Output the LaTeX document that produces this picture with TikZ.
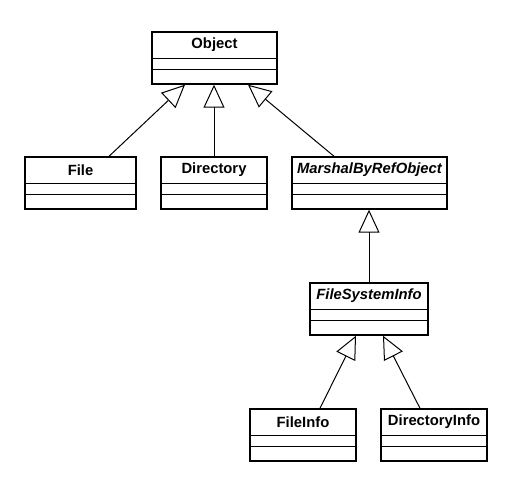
\documentclass[tikz,border=0pt]{standalone}
\usepackage{fontspec}
\setmainfont{Liberation Sans}
\usetikzlibrary{arrows.meta}
\begin{document}
\begin{tikzpicture}[x=1pt, y=-1pt,
  cls/.style={draw, line width=1.4pt, minimum height=52pt, inner sep=0pt},
  title/.style={font=\bfseries\fontsize{14.8}{17}\selectfont, inner sep=0pt},
  gen/.style={line width=1pt, -{Triangle[open, length=23pt, width=21pt, line width=1pt]}}]
	\useasboundingbox (0,0) rectangle (515,478);

	% classes
	\node[cls, minimum width=125pt] (obj) at (214.5,58) {};
	\node[cls, minimum width=111pt] (file) at (80.5,183) {};
	\node[cls, minimum width=106pt] (dir) at (214,183) {};
	\node[cls, minimum width=155pt] (mbro) at (369.5,183) {};
	\node[cls, minimum width=118pt] (fsi) at (369,309) {};
	\node[cls, minimum width=106pt] (finfo) at (303,435) {};
	\node[cls, minimum width=106pt] (dinfo) at (434,435) {};

	\node[title] (objT) at ([yshift=-13.5pt]obj.north) {Object};
	\node[title] (fileT) at ([yshift=-13.5pt]file.north) {File};
	\node[title] (dirT) at ([yshift=-13.5pt]dir.north) {Directory};
	\node[title] (mbroT) at ([yshift=-13.5pt]mbro.north) {\itshape MarshalByRefObject};
	\node[title] (fsiT) at ([yshift=-13.5pt]fsi.north) {\itshape FileSystemInfo};
	\node[title] (finfoT) at ([yshift=-13.5pt]finfo.north) {FileInfo};
	\node[title] (dinfoT) at ([yshift=-13.5pt]dinfo.north) {DirectoryInfo};

	% compartments
	\foreach \c in {obj,file,dir,mbro,fsi,finfo,dinfo} {
		\draw[line width=1.4pt] ([yshift=-27pt]\c.north west) -- ([yshift=-27pt]\c.north east);
		\draw[line width=1.4pt] ([yshift=-38pt]\c.north west) -- ([yshift=-38pt]\c.north east);
	}

	% generalizations
	\draw[gen] ([xshift=28.5pt]file.north) -- ([xshift=-29.5pt]obj.south);
	\draw[gen] (dir.north) -- (dir.north |- obj.south);
	\draw[gen] ([xshift=-35.5pt]mbro.north) -- ([xshift=33.5pt]obj.south);
	\draw[gen] ([xshift=-0.5pt]mbro.south |- fsi.north) -- ([xshift=-0.5pt]mbro.south);
	\draw[gen] ([xshift=17pt]finfo.north) -- ([xshift=-13pt]fsi.south);
	\draw[gen] ([xshift=-14pt]dinfo.north) -- ([xshift=14pt]fsi.south);
\end{tikzpicture}
\end{document}
